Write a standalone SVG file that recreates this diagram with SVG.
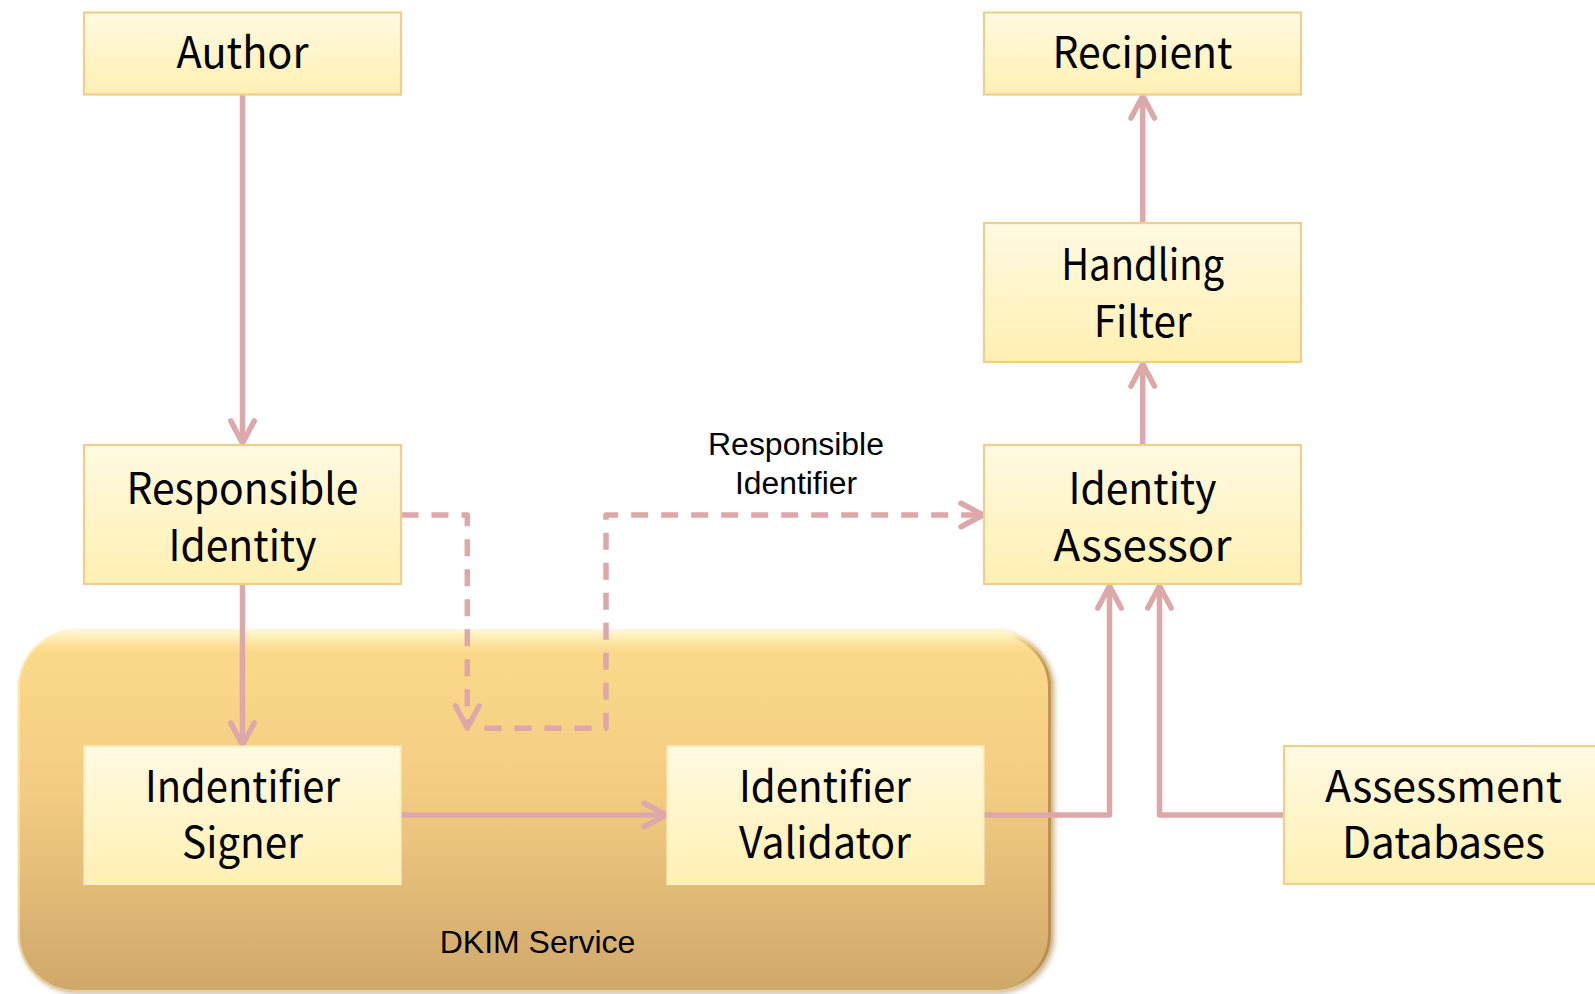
<svg xmlns="http://www.w3.org/2000/svg" width="1595" height="994" viewBox="0 0 1595 994">
  <defs>
    <linearGradient id="nodeFill" x1="0" y1="0" x2="0" y2="1">
      <stop offset="0" stop-color="#FFFAE2"/>
      <stop offset="1" stop-color="#FFF0B2"/>
    </linearGradient>
    <linearGradient id="groupFill" x1="0" y1="0" x2="0" y2="1">
      <stop offset="0" stop-color="#FDDB8B"/>
      <stop offset="0.45" stop-color="#F3CC82"/>
      <stop offset="1" stop-color="#CFA86B"/>
    </linearGradient>
    <linearGradient id="groupShine" x1="0" y1="0" x2="0" y2="1">
      <stop offset="0" stop-color="#FFFBD8" stop-opacity="0.95"/>
      <stop offset="0.06" stop-color="#FFF3C0" stop-opacity="0"/>
      <stop offset="1" stop-color="#FFF3C0" stop-opacity="0"/>
    </linearGradient>
    <linearGradient id="groupEdge" x1="0" y1="0" x2="1" y2="0">
      <stop offset="0" stop-color="#A87D45" stop-opacity="0"/>
      <stop offset="0.96" stop-color="#A87D45" stop-opacity="0"/>
      <stop offset="1" stop-color="#A87D45" stop-opacity="0.8"/>
    </linearGradient>
    <filter id="groupShadow" x="-5%" y="-5%" width="110%" height="110%">
      <feDropShadow dx="2" dy="2" stdDeviation="2.5" flood-color="#9A7440" flood-opacity="0.45"/>
    </filter>
    <clipPath id="groupClip">
      <rect x="18" y="630" width="1035" height="362" rx="58" ry="58"/>
    </clipPath>
    <marker id="arrow" markerUnits="userSpaceOnUse" markerWidth="40" markerHeight="40" viewBox="-30 -20 40 40" refX="0" refY="0" orient="auto" overflow="visible">
      <path d="M -22 -11.7 L 0 0 L -22 11.7" fill="none" stroke="#DDA8AA" stroke-width="5.5" stroke-linecap="round" stroke-linejoin="round" stroke-dasharray="none"/>
    </marker>
    <style>
      .box { fill: url(#nodeFill); stroke: #EFCF8D; stroke-width: 2.2; }
      .inner { fill: url(#nodeFill); stroke: #FDF0C6; stroke-width: 2; }
      .label { font-family: "Noto Sans CJK JP", "Noto Sans", sans-serif; font-size: 43px; fill: #000; text-anchor: middle; }
      .note { font-family: "Liberation Sans", Arial, sans-serif; fill: #000; text-anchor: middle; }
      .link { fill: none; stroke: #DDA8AA; stroke-width: 5.5; stroke-linejoin: round; marker-end: url(#arrow); }
      .dash { stroke-dasharray: 17 13; }
    </style>
  </defs>

  <!-- DKIM Service container -->
  <g id="dkim-service">
    <rect x="18" y="630" width="1035" height="362" rx="58" ry="58" fill="url(#groupFill)" filter="url(#groupShadow)"/>
    <g clip-path="url(#groupClip)">
      <rect x="18" y="630" width="1035" height="362" rx="58" ry="58" fill="url(#groupShine)"/>
      <rect x="18" y="630" width="1035" height="362" rx="58" ry="58" fill="none" stroke="url(#groupEdge)" stroke-width="10"/>
      <rect x="18" y="630" width="1035" height="362" rx="58" ry="58" fill="none" stroke="#FFF6C8" stroke-opacity="0.5" stroke-width="4"/>
    </g>
    <text class="note" x="537.5" y="953.3" font-size="32">DKIM Service</text>
  </g>

  <!-- connectors -->
  <g id="connectors">
    <path class="link" d="M242.5 95 V443"/>
    <path class="link" d="M242.5 584 V745"/>
    <path class="link" d="M401 815 H666"/>
    <path class="link" d="M984 815 H1109.5 V586"/>
    <path class="link" d="M1284 815 H1159.5 V586"/>
    <path class="link" d="M1142.7 444 V364"/>
    <path class="link" d="M1142.7 222 V96"/>
    <path class="link dash" d="M401.5 515 H467.3 V728"/>
    <path class="link dash" d="M484.5 728.3 H606 V515 H983"/>
    <text class="note" x="796" y="455" font-size="31" textLength="176" lengthAdjust="spacingAndGlyphs">Responsible</text>
    <text class="note" x="796" y="494" font-size="31" textLength="122" lengthAdjust="spacingAndGlyphs">Identifier</text>
  </g>

  <g id="author">
    <rect class="box" x="84" y="12.5" width="317" height="82"/>
    <text class="label" x="242.5" y="68.3" textLength="132" lengthAdjust="spacingAndGlyphs">Author</text>
  </g>

  <g id="recipient">
    <rect class="box" x="984" y="12.5" width="317" height="82"/>
    <text class="label" x="1142.5" y="68.3" textLength="180" lengthAdjust="spacingAndGlyphs">Recipient</text>
  </g>

  <g id="handling-filter">
    <rect class="box" x="984" y="223" width="317" height="139"/>
    <text class="label" x="1142.7" y="280" textLength="163" lengthAdjust="spacingAndGlyphs">Handling</text>
    <text class="label" x="1142.7" y="337.3" textLength="98" lengthAdjust="spacingAndGlyphs">Filter</text>
  </g>

  <g id="responsible-identity">
    <rect class="box" x="84" y="445" width="317" height="139"/>
    <text class="label" x="242.5" y="503.5" textLength="232" lengthAdjust="spacingAndGlyphs">Responsible</text>
    <text class="label" x="242.5" y="560.5" textLength="148" lengthAdjust="spacingAndGlyphs">Identity</text>
  </g>

  <g id="identity-assessor">
    <rect class="box" x="984" y="445" width="317" height="139"/>
    <text class="label" x="1142.5" y="503.5" textLength="148" lengthAdjust="spacingAndGlyphs">Identity</text>
    <text class="label" x="1142.5" y="560.5" textLength="178" lengthAdjust="spacingAndGlyphs">Assessor</text>
  </g>

  <g id="identifier-signer">
    <rect class="inner" x="84.5" y="746.5" width="316" height="137.5"/>
    <text class="label" x="242.5" y="801.7" textLength="195" lengthAdjust="spacingAndGlyphs">Indentifier</text>
    <text class="label" x="242.5" y="858.3" textLength="121" lengthAdjust="spacingAndGlyphs">Signer</text>
  </g>

  <g id="identifier-validator">
    <rect class="inner" x="667.5" y="746.5" width="316" height="137.5"/>
    <text class="label" x="825" y="801.7" textLength="172" lengthAdjust="spacingAndGlyphs">Identifier</text>
    <text class="label" x="825" y="858.3" textLength="172" lengthAdjust="spacingAndGlyphs">Validator</text>
  </g>

  <g id="assessment-databases">
    <rect class="box" x="1284" y="746" width="318" height="138"/>
    <text class="label" x="1443.5" y="801.7" textLength="237" lengthAdjust="spacingAndGlyphs">Assessment</text>
    <text class="label" x="1443.5" y="858.3" textLength="203" lengthAdjust="spacingAndGlyphs">Databases</text>
  </g>
</svg>
